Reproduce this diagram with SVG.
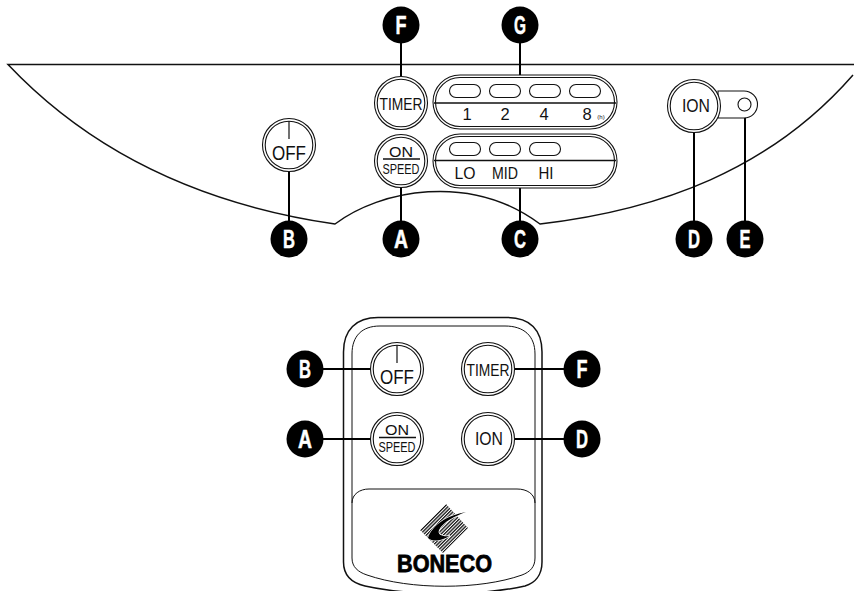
<svg xmlns="http://www.w3.org/2000/svg" width="854" height="591" viewBox="0 0 854 591">
<style>
text{font-family:"Liberation Sans",Arial,sans-serif;fill:#111}
.o{fill:#fff;stroke:#111;stroke-width:1.1}
.b{fill:#fff;stroke:#111;stroke-width:1}
.l{fill:none;stroke:#111;stroke-width:1.5}
.c{fill:none;stroke:#000;stroke-width:2}
.m{fill:#000}
.mt{font-size:25px;font-weight:700;fill:#fff;stroke:#fff;stroke-width:.5;text-anchor:middle}
.t{text-anchor:middle}
.led{fill:#fff;stroke:#111;stroke-width:1.1}
</style>
<defs>
<g id="btn"><circle r="26.5" class="o"/><circle r="23.8" class="o"/></g>
<g id="pill"><rect x="-92" y="-27" width="184" height="54" rx="27" class="o"/><rect x="-89.5" y="-24.5" width="179" height="49" rx="24.5" class="o"/></g>
<rect id="ledp" x="0" y="0" width="31" height="13" rx="6.5" class="led"/>
<pattern id="hatch" width="2.400" height="2.400" patternUnits="userSpaceOnUse" patternTransform="rotate(45)"><rect width="1.300" height="2.400" fill="#111"/></pattern>
</defs>
<g id="panel"><path class="l" d="M854 64.500H8C70 130 170 200 335 224C380 190 470 172 540 224C660 210 770 170 853 75"/></g>
<g id="remote">
<path class="l" d="M343.500 352C343.500 330 356 317.500 378 317.500H507C530 317.500 542 330 542 352V562C542 575 535 583 525 586C480 596 410 596 365 586C352 583 343.500 575 343.500 562Z" style="fill:#fff"/>
<path class="b" d="M352 354C352 336 362 326 380 326H505C524 326 535 336 535 354V558C535 567 530 572 522 575C480 590 410 590 367 575C358 572 352 567 352 558Z"/>
<path class="b" style="fill:none" d="M352 503C352 494 360 489 369 489H517C527 489 535 494 535 503"/>
<g id="logo"><path d="M446 504L468 528L443 553L420 530Z" fill="url(#hatch)"/><path d="M466 512C448 515 432 525 428 538C435 544 446 538 450 536C443 537 437 535 439 530C443 522 455 516 466 512Z" fill="#000" stroke="#fff" stroke-width="1.500"/><path class="m" d="M466 512C448 515 432 525 428 538C435 544 446 538 450 536C443 537 437 535 439 530C443 522 455 516 466 512Z"/><text x="444.500" y="572" class="t" font-size="24" font-weight="700" textLength="95" lengthAdjust="spacingAndGlyphs" stroke="#000" stroke-width=".8" style="fill:#000">BONECO</text></g>
</g>
<g id="connectors">
<path class="c" d="M401 25V76M520 25V75M289 172V239M401 188V239M520 188V239M694 133V239M745 112V239M305 369H371M582 369H515M305 439H370M582 439H515"/>
</g>
<g id="ledE"><path class="o" d="M718 91H744A13.500 13.500 0 0 1 744 118H718Z"/><circle cx="744.500" cy="104.500" r="6.500" class="o"/></g>
<g id="btn-timer"><use href="#btn" x="401" y="103"/><text class="t" x="401" y="109.500" font-size="17" textLength="43" lengthAdjust="spacingAndGlyphs">TIMER</text></g>
<g id="btn-on"><use href="#btn" x="401" y="161"/><text class="t" x="401" y="156.500" font-size="15.500" textLength="24" lengthAdjust="spacingAndGlyphs">ON</text><path d="M383 159H420" stroke="#111" stroke-width="1.500"/><text class="t" x="401" y="174" font-size="15" textLength="37" lengthAdjust="spacingAndGlyphs">SPEED</text></g>
<g id="btn-off"><use href="#btn" x="289" y="145"/><path d="M289 121V139" stroke="#111" stroke-width="1.200"/><text class="t" x="289" y="160" font-size="19.500" textLength="34" lengthAdjust="spacingAndGlyphs">OFF</text></g>
<g id="btn-ion"><use href="#btn" x="694" y="106"/><text class="t" x="696" y="112" font-size="18" textLength="28" lengthAdjust="spacingAndGlyphs">ION</text></g>
<g id="panel-g"><use href="#pill" x="525" y="102"/><path class="l" d="M434 103H616"/>
<use href="#ledp" x="449.500" y="84.500"/><use href="#ledp" x="489.500" y="84.500"/><use href="#ledp" x="529.500" y="84.500"/><use href="#ledp" x="569.500" y="84.500"/>
<g font-size="16.500"><text class="t" x="467" y="120">1</text><text class="t" x="505" y="120">2</text><text class="t" x="544" y="120">4</text><text class="t" x="587" y="120">8</text></g><text class="t" x="601" y="119" font-size="6">(h)</text></g>
<g id="panel-c"><use href="#pill" x="525" y="161"/><path class="l" d="M434 160.500H616"/>
<use href="#ledp" x="449.500" y="142.500"/><use href="#ledp" x="489.500" y="142.500"/><use href="#ledp" x="529.500" y="142.500"/>
<g font-size="16.500"><text class="t" x="465" y="178.500" textLength="21" lengthAdjust="spacingAndGlyphs">LO</text><text class="t" x="505" y="178.500" textLength="26" lengthAdjust="spacingAndGlyphs">MID</text><text class="t" x="546" y="178.500" textLength="15" lengthAdjust="spacingAndGlyphs">HI</text></g></g>
<g id="r-off"><use href="#btn" x="397" y="369"/><path d="M397 345V363" stroke="#111" stroke-width="1.200"/><text class="t" x="397" y="384" font-size="19.500" textLength="34" lengthAdjust="spacingAndGlyphs">OFF</text></g>
<g id="r-timer"><use href="#btn" x="488" y="369"/><text class="t" x="488" y="375.500" font-size="17" textLength="43" lengthAdjust="spacingAndGlyphs">TIMER</text></g>
<g id="r-on"><use href="#btn" x="397" y="439"/><text class="t" x="397" y="434.500" font-size="15.500" textLength="24" lengthAdjust="spacingAndGlyphs">ON</text><path d="M379 437.500H416" stroke="#111" stroke-width="1.500"/><text class="t" x="397" y="452" font-size="15" textLength="37" lengthAdjust="spacingAndGlyphs">SPEED</text></g>
<g id="r-ion"><use href="#btn" x="488" y="439"/><text class="t" x="489" y="445" font-size="18" textLength="28" lengthAdjust="spacingAndGlyphs">ION</text></g>
<g id="label-F"><circle class="m" cx="401" cy="25" r="18.500"/><text class="mt" x="401" y="33.500" textLength="11" lengthAdjust="spacingAndGlyphs">F</text></g>
<g id="label-G"><circle class="m" cx="520" cy="25" r="18.500"/><text class="mt" x="520" y="33.500" textLength="12" lengthAdjust="spacingAndGlyphs">G</text></g>
<g id="label-B"><circle class="m" cx="289" cy="239" r="18.500"/><text class="mt" x="289" y="247.500" textLength="12" lengthAdjust="spacingAndGlyphs">B</text></g>
<g id="label-A"><circle class="m" cx="401" cy="239" r="18.500"/><text class="mt" x="401" y="247.500" textLength="14" lengthAdjust="spacingAndGlyphs">A</text></g>
<g id="label-C"><circle class="m" cx="520" cy="239" r="18.500"/><text class="mt" x="520" y="247.500" textLength="12" lengthAdjust="spacingAndGlyphs">C</text></g>
<g id="label-D"><circle class="m" cx="694" cy="239" r="18.500"/><text class="mt" x="694" y="247.500" textLength="12" lengthAdjust="spacingAndGlyphs">D</text></g>
<g id="label-E"><circle class="m" cx="745" cy="239" r="18.500"/><text class="mt" x="745" y="247.500" textLength="11" lengthAdjust="spacingAndGlyphs">E</text></g>
<g id="label-B2"><circle class="m" cx="305" cy="369" r="18.500"/><text class="mt" x="305" y="377.500" textLength="12" lengthAdjust="spacingAndGlyphs">B</text></g>
<g id="label-F2"><circle class="m" cx="582" cy="369" r="18.500"/><text class="mt" x="582" y="377.500" textLength="11" lengthAdjust="spacingAndGlyphs">F</text></g>
<g id="label-A2"><circle class="m" cx="305" cy="439" r="18.500"/><text class="mt" x="305" y="447.500" textLength="14" lengthAdjust="spacingAndGlyphs">A</text></g>
<g id="label-D2"><circle class="m" cx="582" cy="439" r="18.500"/><text class="mt" x="582" y="447.500" textLength="12" lengthAdjust="spacingAndGlyphs">D</text></g>
</svg>
